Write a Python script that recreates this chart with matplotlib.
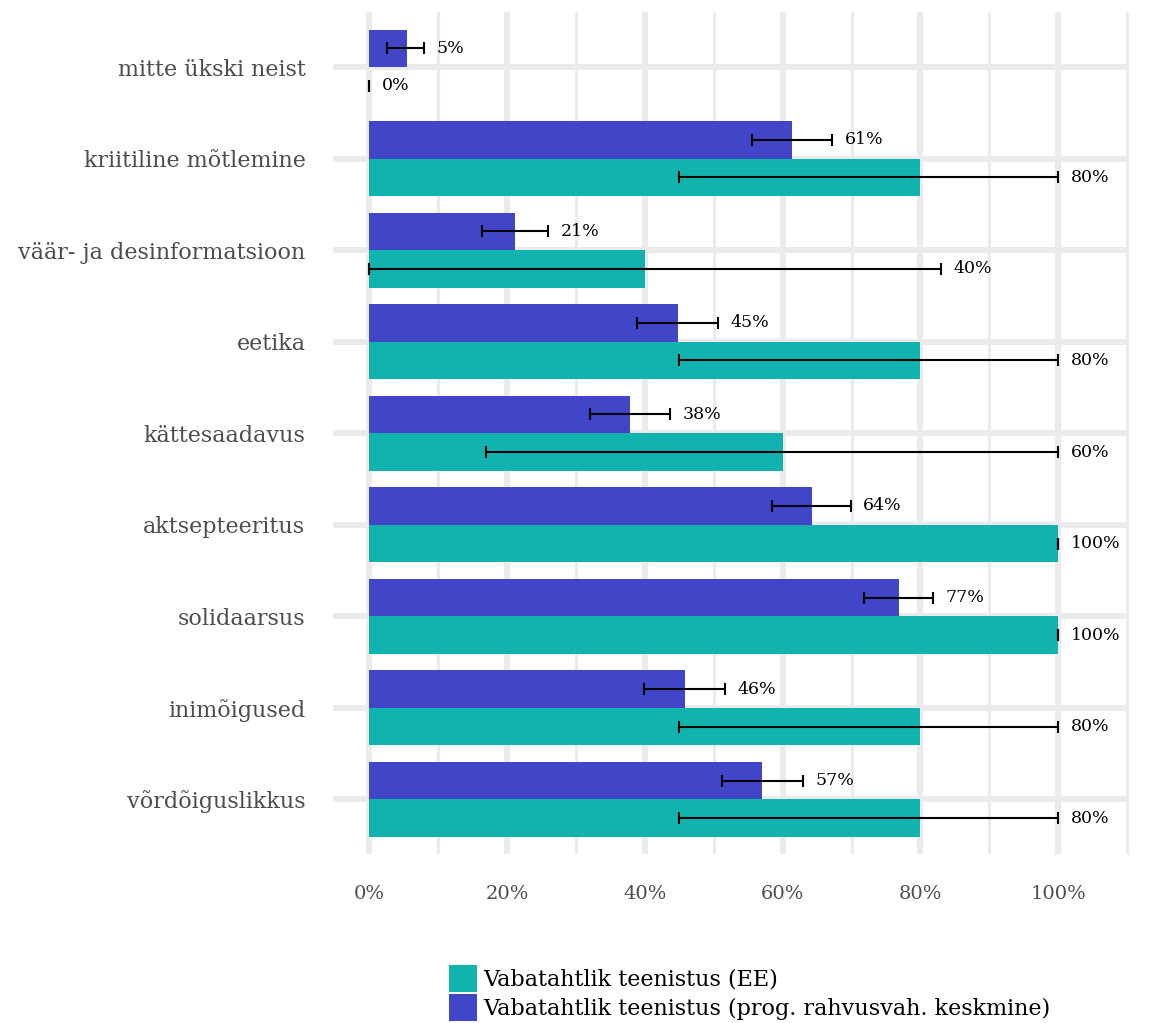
import matplotlib
matplotlib.use("Agg")
import matplotlib.pyplot as plt
import numpy as np
from matplotlib.patches import Patch
from matplotlib.ticker import MultipleLocator, FuncFormatter

plt.rcParams['font.family'] = ['DejaVu Serif']

categories = ['mitte ükski neist', 'kriitiline mõtlemine', 'väär- ja desinformatsioon',
              'eetika', 'kättesaadavus', 'aktsepteeritus', 'solidaarsus',
              'inimõigused', 'võrdõiguslikkus']

# Vabatahtlik teenistus (EE)
ee_vals = [0, 80, 40, 80, 60, 100, 100, 80, 80]
ee_lo = [0, 45, 0, 45, 17, 100, 100, 45, 45]
ee_hi = [0, 100, 83, 100, 100, 100, 100, 100, 100]

# Vabatahtlik teenistus (prog. rahvusvah. keskmine)
int_vals = [5.4, 61.3, 21.2, 44.8, 37.9, 64.2, 76.9, 45.8, 57.0]
int_lo = [2.6, 55.5, 16.4, 38.8, 32.0, 58.4, 71.8, 39.8, 51.2]
int_hi = [8.0, 67.2, 26.0, 50.6, 43.6, 69.9, 81.8, 51.7, 62.9]

teal = '#11b3ae'
blue = '#4146c9'

fig = plt.figure(figsize=(11.53, 10.23), dpi=100)
ax = fig.add_axes([0.289, 0.165, 0.69, 0.823])

n = len(categories)
y = np.arange(n)[::-1].astype(float)
h = 0.41

ax.barh(y + h / 2, int_vals, height=h, color=blue, zorder=2)
ax.barh(y - h / 2, ee_vals, height=h, color=teal, zorder=2)

for vals, lo, hi, yy in [(int_vals, int_lo, int_hi, y + h / 2),
                         (ee_vals, ee_lo, ee_hi, y - h / 2)]:
    v = np.array(vals)
    lo = np.array(lo)
    hi = np.array(hi)
    mid = (lo + hi) / 2
    ax.errorbar(mid, yy, xerr=(hi - lo) / 2, fmt='none', ecolor='black',
                elinewidth=1.5, capsize=4, capthick=1.5, zorder=3)
    for val, top, yi in zip(v, hi, yy):
        ax.annotate(f'{round(val):.0f}%', (top, yi), xytext=(9, 0),
                    textcoords='offset points', ha='left', va='center',
                    fontsize=12.5, color='black', zorder=4)

ax.set_xlim(-5.25, 110.25)
ax.set_ylim(-0.6, n - 1 + 0.6)
ax.xaxis.set_major_locator(MultipleLocator(20))
ax.xaxis.set_minor_locator(MultipleLocator(10))
ax.xaxis.set_major_formatter(FuncFormatter(lambda v, p: f'{v:.0f}%'))
ax.set_yticks(y)
ax.set_yticklabels(categories)

ax.grid(which='major', axis='both', color='#ebebeb', linewidth=4.3, zorder=0)
ax.grid(which='minor', axis='x', color='#ebebeb', linewidth=2.2, zorder=0)
ax.set_axisbelow(True)
for s in ax.spines.values():
    s.set_visible(False)
ax.tick_params(axis='both', which='both', length=0)
ax.tick_params(axis='x', labelsize=14, labelcolor='#4d4d4d', pad=22)
ax.tick_params(axis='y', labelsize=16, labelcolor='#4d4d4d', pad=20)

handles = [Patch(facecolor=teal, label='Vabatahtlik teenistus (EE)'),
           Patch(facecolor=blue, label='Vabatahtlik teenistus (prog. rahvusvah. keskmine)')]
fig.legend(handles=handles, loc='lower left', bbox_to_anchor=(0.372, -0.018),
           frameon=False, fontsize=16, handlelength=1.25, handleheight=1.55,
           handletextpad=0.3, labelspacing=0.05)

fig.savefig('out.png', dpi=100)
